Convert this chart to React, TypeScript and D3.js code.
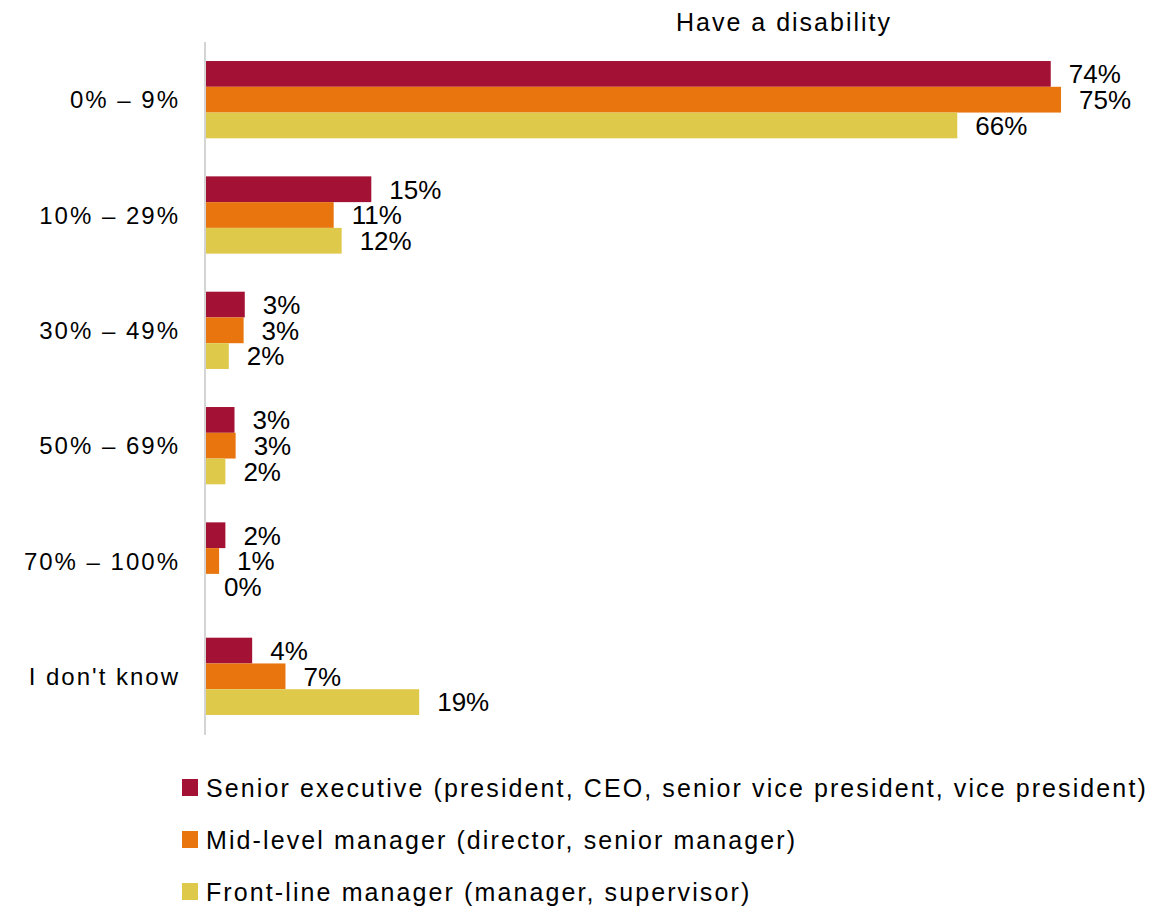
import * as d3 from 'd3'

const categories = ['0% – 9%', '10% – 29%', '30% – 49%', '50% – 69%', '70% – 100%', "I don't know"]
const seriesNames = [
  'Senior executive (president, CEO, senior vice president, vice president)',
  'Mid-level manager (director, senior manager)',
  'Front-line manager (manager, supervisor)'
]
const seniorValues = [74.1, 14.5, 3.4, 2.5, 1.7, 4.05]
const midValues = [75.0, 11.2, 3.3, 2.6, 1.15, 6.97]
const frontValues = [65.9, 11.9, 2.0, 1.7, 0, 18.7]
const colors = ['#A31134', '#E8750E', '#DFC94B']
const title = 'Have a disability'

const width = 1157
const height = 907
const font = '"Liberation Sans", Arial, sans-serif'

export default function App() {
  const series = [seniorValues, midValues, frontValues]

  const x = d3.scaleLinear().domain([0, 75]).range([206, 1061])
  const y = d3.scaleBand<string>()
    .domain(categories)
    .range([42, 734])
    .paddingInner(0.33)
    .paddingOuter(0.165)
  const y1 = d3.scaleBand<number>()
    .domain([0, 1, 2])
    .range([0, y.bandwidth()])

  return (
    <svg width={width} height={height} style={{ position: 'absolute', left: 0, top: 0 }}>
      <rect width={width} height={height} fill="#fff" />
      <text x={784} y={22} textAnchor="middle" dominantBaseline="central"
        fontFamily={font} fontSize={25} letterSpacing={2} fill="#000">{title}</text>

      <line x1={205} x2={205} y1={42} y2={735} stroke="#d4d4d4" strokeWidth={2} />

      {categories.map((c, i) => (
        <g key={c} transform={`translate(0,${y(c)})`}>
          <text x={180} y={y.bandwidth() / 2} textAnchor="end" dy="0.36em"
            fontFamily={font} fontSize={24} letterSpacing={2} fill="#000">{c}</text>
          {series.map((vals, s) => (
            <g key={s}>
              {vals[i] > 0 && (
                <rect x={x(0)} y={y1(s)} width={x(vals[i]) - x(0)} height={y1.bandwidth()}
                  fill={colors[s]} />
              )}
              <text x={x(vals[i]) + 18} y={(y1(s) ?? 0) + y1.bandwidth() / 2} dy="0.36em"
                fontFamily={font} fontSize={26} fill="#000">{Math.round(vals[i])}%</text>
            </g>
          ))}
        </g>
      ))}

      {seriesNames.map((name, s) => (
        <g key={name} transform={`translate(0,${788 + s * 52})`}>
          <rect x={182} y={-9} width={16} height={17} fill={colors[s]} />
          <text x={206} y={0} dy="0.36em" fontFamily={font} fontSize={25} letterSpacing={2.1}
            fill="#000">{name}</text>
        </g>
      ))}
    </svg>
  )
}
